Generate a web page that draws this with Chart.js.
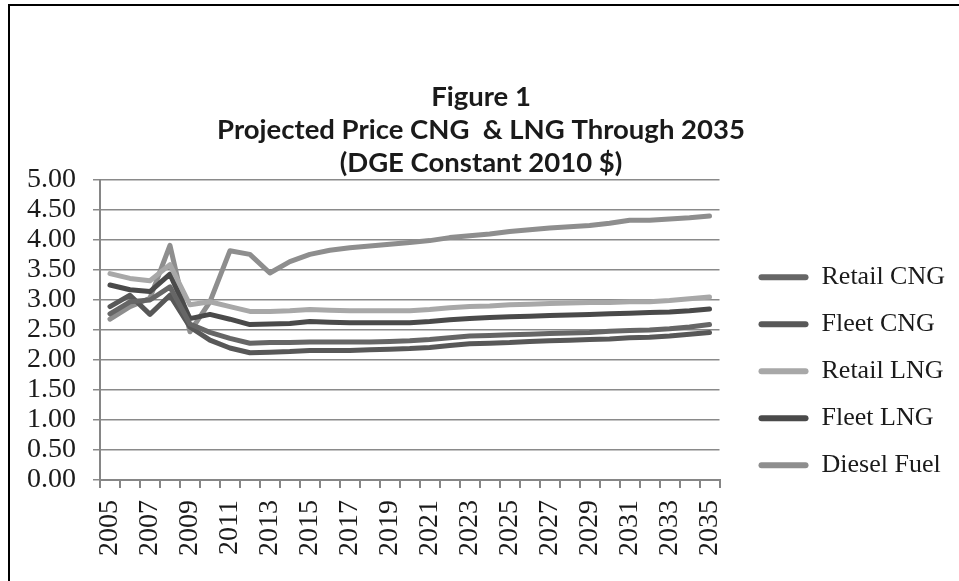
<!DOCTYPE html>
<html>
<head>
<meta charset="utf-8">
<script src="https://cdn.jsdelivr.net/npm/chart.js@4.4.0/dist/chart.umd.min.js"></script>
<style>
  html, body { margin: 0; padding: 0; background: #ffffff; }
  #wrap { width: 959px; height: 581px; position: relative; }
</style>
</head>
<body>
<div id="wrap"><canvas id="fuel-canvas"></canvas></div>
<script>
const years = [];
for (let y = 2005; y <= 2035; y++) years.push(String(y));

const retailCng = [2.77, 2.97, 3.00, 3.22, 2.60, 2.46, 2.36, 2.28, 2.29, 2.29, 2.30, 2.30, 2.30, 2.30,
  2.31, 2.32, 2.34, 2.37, 2.40, 2.41, 2.42, 2.43, 2.44, 2.45, 2.46, 2.48, 2.49, 2.50, 2.52, 2.55, 2.59];
const fleetCng = [2.89, 3.08, 2.76, 3.08, 2.55, 2.33, 2.20, 2.12, 2.13, 2.14, 2.16, 2.16, 2.16, 2.17,
  2.18, 2.19, 2.21, 2.24, 2.27, 2.28, 2.29, 2.31, 2.32, 2.33, 2.34, 2.35, 2.37, 2.38, 2.40, 2.43, 2.46];
const retailLng = [3.44, 3.36, 3.32, 3.59, 2.92, 2.97, 2.89, 2.81, 2.81, 2.82, 2.84, 2.83, 2.82, 2.82,
  2.82, 2.82, 2.84, 2.87, 2.89, 2.90, 2.92, 2.93, 2.94, 2.95, 2.96, 2.96, 2.97, 2.97, 2.99, 3.02, 3.05];
const fleetLng = [3.25, 3.17, 3.14, 3.43, 2.69, 2.76, 2.68, 2.59, 2.60, 2.61, 2.64, 2.63, 2.62, 2.62,
  2.62, 2.62, 2.64, 2.67, 2.69, 2.71, 2.72, 2.73, 2.74, 2.75, 2.76, 2.77, 2.78, 2.79, 2.80, 2.82, 2.85];
const diesel = [2.68, 2.89, 3.03, 3.91, 2.47, 2.97, 3.82, 3.76, 3.45, 3.64, 3.76, 3.83, 3.87, 3.90,
  3.93, 3.96, 3.99, 4.04, 4.07, 4.10, 4.14, 4.17, 4.20, 4.22, 4.24, 4.28, 4.33, 4.33, 4.35, 4.37, 4.40];

const seriesNames = ["Retail CNG", "Fleet CNG", "Retail LNG", "Fleet LNG", "Diesel Fuel"];
const seriesColors = ["#666666", "#585858", "#a8a8a8", "#4a4a4a", "#8e8e8e"];
const titleLines = ["Figure 1", "Projected Price CNG  & LNG Through 2035", "(DGE Constant 2010 $)"];

const serif = "'Liberation Serif', 'Times New Roman', serif";

function lineSet(i, values) {
  return {
    label: seriesNames[i],
    data: values,
    borderColor: seriesColors[i],
    backgroundColor: seriesColors[i],
    borderWidth: 5,
    pointRadius: 0,
    tension: 0,
    borderCapStyle: "round",
    borderJoinStyle: "round",
  };
}

const frame = {
  id: "frame",
  beforeDraw(chart) {
    const ctx = chart.ctx;
    ctx.save();
    ctx.fillStyle = "#ffffff";
    ctx.fillRect(0, 0, chart.width, chart.height);
    ctx.strokeStyle = "#000000";
    ctx.lineWidth = 2;
    ctx.strokeRect(9, 5, 1000, 700);
    ctx.restore();
  },
};

const ctx = document.getElementById("fuel-canvas").getContext("2d");
new Chart(ctx, {
  type: "line",
  data: {
    labels: years,
    datasets: [
      lineSet(0, retailCng),
      lineSet(1, fleetCng),
      lineSet(2, retailLng),
      lineSet(3, fleetLng),
      lineSet(4, diesel),
    ],
  },
  options: {
    responsive: true,
    maintainAspectRatio: false,
    animation: false,
    layout: { padding: { top: 0, left: 7, right: 4, bottom: 13 } },
    plugins: {
      title: {
        display: true,
        text: titleLines,
        color: "#1a1a1a",
        font: { family: "Lato, 'Open Sans', sans-serif", size: 27.5, weight: "bold", lineHeight: 1.2 },
        padding: { top: 81, bottom: 0 },
      },
      legend: {
        position: "right",
        maxWidth: 260,
        title: { display: true, text: "", padding: { top: 0, bottom: 160 } },
        labels: {
          color: "#1a1a1a",
          font: { family: serif, size: 26 },
          boxWidth: 50,
          boxHeight: 6,
          padding: 21,
          useBorderRadius: true,
          borderRadius: 3,
          generateLabels(chart) {
            return Chart.defaults.plugins.legend.labels.generateLabels(chart)
              .map(item => ({ ...item, lineWidth: 0 }));
          },
        },
      },
      tooltip: { enabled: false },
    },
    scales: {
      x: {
        type: "category",
        offset: true,
        grid: {
          offset: true,
          drawOnChartArea: false,
          drawTicks: true,
          tickLength: 8,
          color: "#868686",
          lineWidth: 2,
        },
        border: { color: "#868686", width: 2 },
        ticks: {
          autoSkip: false,
          minRotation: 90,
          maxRotation: 90,
          padding: 12,
          color: "#1a1a1a",
          font: { family: serif, size: 28 },
          callback: function (value, index) {
            return index % 2 === 0 ? this.getLabelForValue(value) : "";
          },
        },
      },
      y: {
        min: 0,
        max: 5,
        afterFit: (scale) => { scale.width = 93; },
        grid: { color: "#8a8a8a", lineWidth: 1.5, tickLength: 7 },
        border: { color: "#868686", width: 2 },
        ticks: {
          stepSize: 0.5,
          autoSkip: false,
          padding: 17,
          color: "#1a1a1a",
          font: { family: serif, size: 28 },
          callback: (v) => v.toFixed(2),
        },
      },
      gap: {
        type: "linear",
        position: "right",
        display: true,
        grid: { display: false },
        border: { display: false },
        ticks: { display: false },
        afterFit: (scale) => { scale.width = 18; },
      },
    },
  },
  plugins: [frame],
});
</script>
</body>
</html>
